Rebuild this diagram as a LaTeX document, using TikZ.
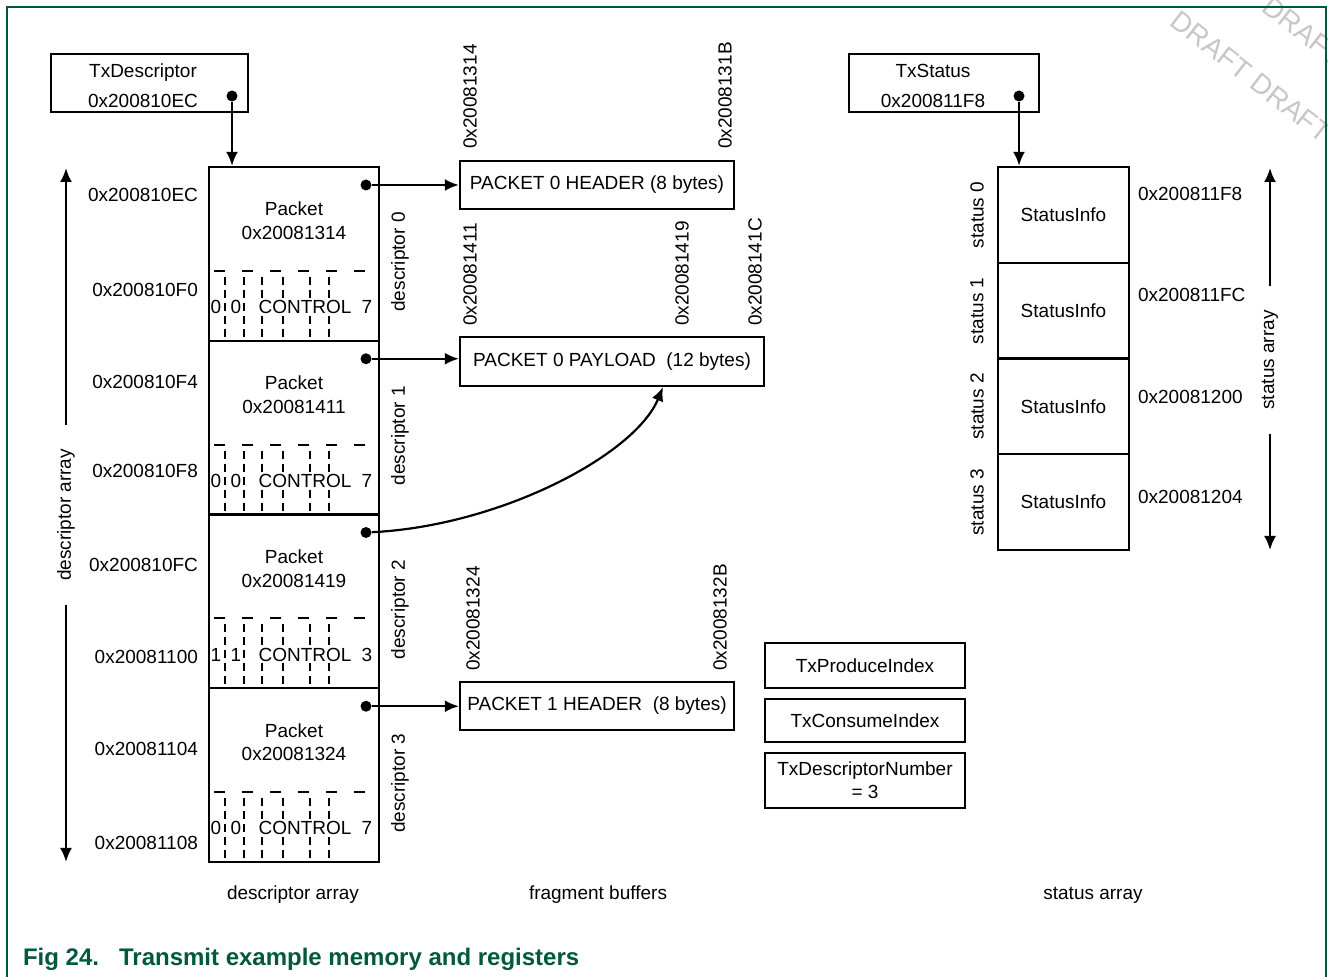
\documentclass[tikz,border=0pt]{standalone}
\usepackage{fontspec}
\setmainfont{Liberation Sans}
\usetikzlibrary{arrows.meta}
\definecolor{capgreen}{RGB}{0,88,62}
\tikzstyle{cell}=[draw, line width=1.2pt, inner sep=0pt]
\tikzstyle{dot}=[circle, fill=black, inner sep=0pt, minimum size=5.5pt]
\tikzstyle{ptr}=[line width=1.1pt, -{Latex[length=7pt,width=6pt]}]
\tikzstyle{ctrl}=[line width=1pt, dash pattern=on 5.5pt off 8.5pt]
\tikzstyle{bit}=[line width=1pt, dash pattern=on 4pt off 2.5pt]
\tikzstyle{vlabel}=[rotate=90]
\tikzstyle{wm}=[rotate=-38, text=black!22, align=left, font=\fontsize{14}{14}\selectfont]

\begin{document}
\begin{tikzpicture}[x=0.5pt, y=-0.5pt,
	every node/.style={font=\fontsize{9.5}{11.4}\selectfont}]
	\useasboundingbox (0,0) rectangle (1328,977);

	% watermark
	\begin{scope}
		\clip (0,0) rectangle (1328,977);
		\node[wm, anchor=base west] (wm) at (1163,20)
			{\hspace*{32pt}DRAFT DRAFT\\[20pt]DRAFT DRAFT DRAFT};
	\end{scope}
	\draw[capgreen, line width=1pt] (7,977) -- (7,7) -- (1326,7) -- (1326,977);

	% TxDescriptor register
	\node[cell, minimum width=98.5pt, minimum height=29pt] (txd) at (149.5,83) {};
	\node[align=center] (txdl) at (143,86) {TxDescriptor\\[3.6pt]0x200810EC};
	\node[dot] (pd) at (232,96) {};

	% descriptor array
	\foreach \i/\adr/\bit/\num in {0/0x20081314/0/7, 1/0x20081411/0/7,
			2/0x20081419/1/3, 3/0x20081324/0/7}{
		\pgfmathsetmacro{\ty}{167+173.75*\i}
		\node[cell, minimum width=85pt, minimum height=86.875pt] (d\i) at (294,\ty+86.875) {};
		\node (pk\i) at (294,\ty+42) {Packet};
		\node (pa\i) at (294,\ty+66) {\adr};
		\draw[ctrl] (214,\ty+104) -- (376,\ty+104);
		\foreach \x in {225,244,262,283,310,329}
			\draw[bit] (\x,\ty+110) -- (\x,\ty+173.75);
		\node (ba\i) at (216,\ty+140) {\bit};
		\node (bb\i) at (236,\ty+140) {\bit};
		\node[fill=white, inner sep=1pt] (ct\i) at (305,\ty+140) {CONTROL};
		\node (bn\i) at (367,\ty+140) {\num};
		\node[dot] (p\i) at (366,\ty+18) {};
		\node[vlabel] (dl\i) at (400,\ty+95) {descriptor \i};
	}
	\foreach \adr/\ay [count=\k] in {0x200810EC/195, 0x200810F0/290, 0x200810F4/382,
			0x200810F8/471, 0x200810FC/565, 0x20081100/657, 0x20081104/749, 0x20081108/843}
		\node[anchor=east] (dadr\k) at (205,\ay) {\adr};

	\node[vlabel, inner xsep=12pt] (darr) at (66,515) {descriptor array};
	\coordinate (datop) at (66,168);
	\coordinate (dabot) at (66,862);
	\draw[ptr] (darr) -- (datop);
	\draw[ptr] (darr) -- (dabot);

	% fragment buffers
	\node[cell, minimum width=137pt, minimum height=24pt] (hdr0) at (597,185) {PACKET 0 HEADER (8 bytes)};
	\node[cell, minimum width=152pt, minimum height=24.5pt] (pay0) at (612,361.5) {PACKET 0 PAYLOAD\ \ (12 bytes)};
	\node[cell, minimum width=137pt, minimum height=24pt] (hdr1) at (597,706) {PACKET 1 HEADER\ \ (8 bytes)};

	\node[vlabel, anchor=west] (f1314) at (470,156) {0x20081314};
	\node[vlabel, anchor=west] (f131b) at (725,156) {0x2008131B};
	\node[vlabel, anchor=west] (f1411) at (470,333) {0x20081411};
	\node[vlabel, anchor=west] (f1419) at (682,333) {0x20081419};
	\node[vlabel, anchor=west] (f141c) at (755,333) {0x2008141C};
	\node[vlabel, anchor=west] (f1324) at (473,678) {0x20081324};
	\node[vlabel, anchor=west] (f132b) at (720,678) {0x2008132B};

	\draw[ptr] (pd) -- (pd |- d0.north);
	\draw[ptr] (p0) -- (p0 -| hdr0.west);
	\draw[ptr] (p1) -- (p1 -| pay0.west);
	\coordinate (payin) at (663,387);
	\draw[ptr] (p2) .. controls (500,526) and (635,455) .. (payin);
	\draw[ptr] (p3) -- (p3 -| hdr1.west);

	% registers
	\node[cell, minimum width=100pt, minimum height=22.5pt] (prod) at (865,665.5) {TxProduceIndex};
	\node[cell, minimum width=100pt, minimum height=21.5pt] (cons) at (865,720.5) {TxConsumeIndex};
	\node[cell, minimum width=100pt, minimum height=27.5pt, align=center] (dnum) at (865,780.5) {TxDescriptorNumber\\= 3};

	% status array
	\node[cell, minimum width=95pt, minimum height=29pt] (txs) at (944,83) {};
	\node[align=center] (txsl) at (933,86) {TxStatus\\[3.6pt]0x200811F8};
	\node[dot] (ps) at (1019,96) {};
	\foreach \i/\adr/\ay in {0/0x200811F8/194, 1/0x200811FC/295, 2/0x20081200/397, 3/0x20081204/497}{
		\pgfmathsetmacro{\ty}{167+95.75*\i}
		\node[cell, minimum width=65.5pt, minimum height=47.875pt] (st\i) at (1063.5,\ty+47.875) {StatusInfo};
		\node[vlabel] (sl\i) at (977,\ty+48) {status \i};
		\node[anchor=west] (sa\i) at (1131,\ay) {\adr};
	}
	\draw[ptr] (ps) -- (ps |- st0.north);

	\node[vlabel, inner xsep=12pt] (sarr) at (1270,360) {status array};
	\coordinate (satop) at (1270,168);
	\coordinate (sabot) at (1270,550);
	\draw[ptr] (sarr) -- (satop);
	\draw[ptr] (sarr) -- (sabot);

	% captions
	\node (lbd) at (293,895) {descriptor array};
	\node (lbf) at (598,895) {fragment buffers};
	\node (lbs) at (1093,895) {status array};
	\node[anchor=base west, text=capgreen, font=\fontsize{12}{14}\selectfont\bfseries] (cap) at (16,965)
		{Fig 24.\hspace{10pt}Transmit example memory and registers};
\end{tikzpicture}
\end{document}
